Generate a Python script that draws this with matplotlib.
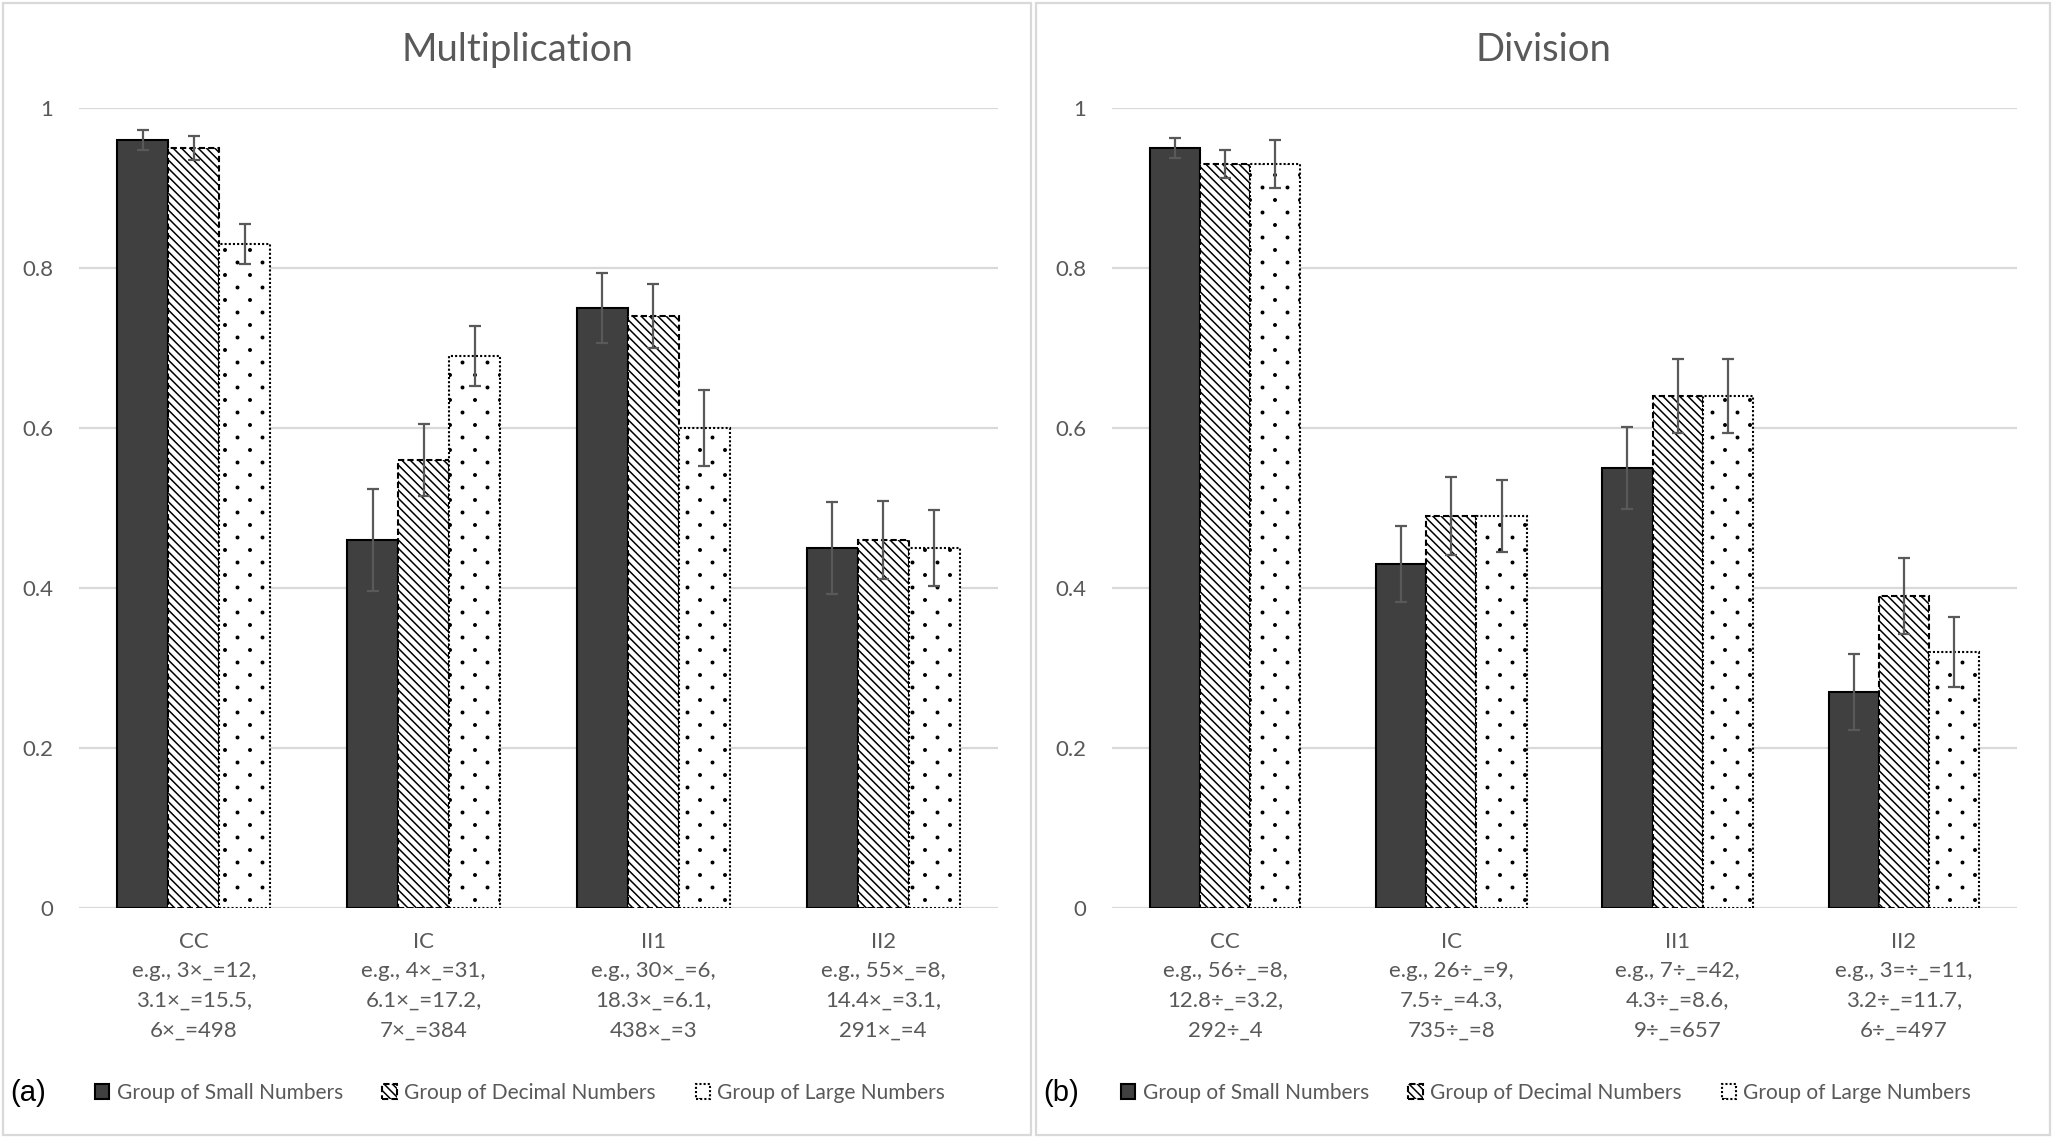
import matplotlib
matplotlib.use("Agg")
import matplotlib.pyplot as plt
import matplotlib.hatch as mhatch
from matplotlib.patches import Patch, Rectangle
from matplotlib.path import Path
import numpy as np

plt.rcParams['font.family'] = ['Lato', 'DejaVu Sans']
plt.rcParams['hatch.linewidth'] = 1.1


# Excel-like sparse dot pattern: staggered rows, dots twice as far apart in a row
class SparseDots(mhatch.HatchPatternBase):
    def __init__(self, hatch, density):
        self.n = 8 if '.' in hatch else 0
        circ = Path.unit_circle()
        self.shape_vertices = circ.vertices
        self.shape_codes = circ.codes
        if self.n == 0:
            self.num_vertices = 0
        else:
            half = self.n // 2
            num_shapes = (half + 1) * (half + 1) + half * half
            self.num_vertices = num_shapes * len(self.shape_vertices)

    def set_vertices_and_codes(self, vertices, codes):
        n = self.n
        half = n // 2
        sv = self.shape_vertices * 0.012
        vparts, cparts = [], []
        for row in range(n + 1):
            if row % 2 == 0:
                cols = np.linspace(0, 1, half + 1)
            else:
                cols = np.linspace(1 / n, 1 - 1 / n, half)
            for c in cols:
                vparts.append(sv + [c, row / n])
                cparts.append(self.shape_codes)
        np.concatenate(vparts, out=vertices)
        np.concatenate(cparts, out=codes)


mhatch._hatch_types = [SparseDots if t is mhatch.SmallFilledCircles else t
                       for t in mhatch._hatch_types]

# values
groups = ['Group of Small Numbers', 'Group of Decimal Numbers', 'Group of Large Numbers']

mult_labels = ['CC\ne.g., 3×_=12,\n3.1×_=15.5,\n6×_=498',
               'IC\ne.g., 4×_=31,\n6.1×_=17.2,\n7×_=384',
               'II1\ne.g., 30×_=6,\n18.3×_=6.1,\n438×_=3',
               'II2\ne.g., 55×_=8,\n14.4×_=3.1,\n291×_=4']
mult_small = [0.96, 0.46, 0.75, 0.45]
mult_small_err = [0.013, 0.064, 0.044, 0.058]
mult_dec = [0.95, 0.56, 0.74, 0.46]
mult_dec_err = [0.015, 0.045, 0.040, 0.049]
mult_large = [0.83, 0.69, 0.60, 0.45]
mult_large_err = [0.025, 0.038, 0.047, 0.047]

div_labels = ['CC\ne.g., 56÷_=8,\n12.8÷_=3.2,\n292÷_4',
              'IC\ne.g., 26÷_=9,\n7.5÷_=4.3,\n735÷_=8',
              'II1\ne.g., 7÷_=42,\n4.3÷_=8.6,\n9÷_=657',
              'II2\ne.g., 3=÷_=11,\n3.2÷_=11.7,\n6÷_=497']
div_small = [0.95, 0.43, 0.55, 0.27]
div_small_err = [0.013, 0.047, 0.051, 0.048]
div_dec = [0.93, 0.49, 0.64, 0.39]
div_dec_err = [0.018, 0.049, 0.046, 0.047]
div_large = [0.93, 0.49, 0.64, 0.32]
div_large_err = [0.030, 0.045, 0.046, 0.044]

W, H = 2055, 1139
fig = plt.figure(figsize=(W / 100, H / 100), dpi=100)

gray_txt = '#595959'
grid_col = '#d9d9d9'
styles = [dict(facecolor='#404040', edgecolor='black', hatch=None, linestyle='-'),
          dict(facecolor='white', edgecolor='black', hatch='\\\\\\\\', linestyle=(0, (3, 1.5))),
          dict(facecolor='white', edgecolor='black', hatch='.', linestyle=(0, (1, 1)))]


def draw_panel(rect, title, labels, series, errs, panel_box, tag):
    ax = fig.add_axes(rect)
    x = np.arange(len(labels))
    w = 0.222
    for i, (vals, err) in enumerate(zip(series, errs)):
        st = styles[i]
        ax.bar(x + (i - 1) * w, vals, w, facecolor=st['facecolor'], edgecolor=st['edgecolor'],
               hatch=st['hatch'], linestyle=st['linestyle'], linewidth=1.5, zorder=2)
        ax.errorbar(x + (i - 1) * w, vals, yerr=err, fmt='none', ecolor=gray_txt,
                    elinewidth=1.6, capsize=4.5, capthick=1.6, zorder=3)
    for yv in np.arange(0, 1.01, 0.2):
        ax.axhline(yv, color=grid_col, lw=1.6, zorder=1)
    ax.set_xlim(-0.5, len(labels) - 0.5)
    ax.set_ylim(0, 1)
    ax.set_yticks([0, 0.2, 0.4, 0.6, 0.8, 1])
    ax.set_yticklabels(['0', '0.2', '0.4', '0.6', '0.8', '1'])
    ax.set_xticks(x)
    ax.set_xticklabels(labels, linespacing=1.6)
    ax.tick_params(axis='both', length=0, labelsize=16, labelcolor=gray_txt)
    ax.tick_params(axis='x', pad=17)
    ax.tick_params(axis='y', pad=18.5)
    for s in ax.spines.values():
        s.set_visible(False)

    x0, y0, x1, y1 = panel_box
    fig.add_artist(Rectangle((x0 / W, 1 - y1 / H), (x1 - x0) / W, (y1 - y0) / H,
                             transform=fig.transFigure, fill=False, ec=grid_col, lw=1.6))
    cx = (x0 + x1) / 2 / W
    fig.text(cx, 1 - 50 / H, title, ha='center', va='center', fontsize=27.5, color=gray_txt)
    handles = [Patch(facecolor=st['facecolor'], edgecolor=st['edgecolor'], hatch=st['hatch'],
                     linestyle=st['linestyle'], linewidth=1.5, label=g)
               for st, g in zip(styles, groups)]
    fig.legend(handles=handles, loc='center', bbox_to_anchor=(cx + 3 / W, 1 - 1093 / H), ncol=3,
               frameon=False, fontsize=15, labelcolor=gray_txt, handlelength=0.7,
               handleheight=0.7, handletextpad=0.35, columnspacing=1.9)
    fig.text((x0 + 7) / W, 1 - 1093 / H, tag, ha='left', va='center', fontsize=21,
             family=['Liberation Sans', 'DejaVu Sans'], color='black')


draw_panel([79 / W, 1 - 908 / H, 919 / W, 800 / H], 'Multiplication', mult_labels,
           [mult_small, mult_dec, mult_large], [mult_small_err, mult_dec_err, mult_large_err],
           (3, 3, 1031, 1135), '(a)')
draw_panel([1112 / W, 1 - 908 / H, 905 / W, 800 / H], 'Division', div_labels,
           [div_small, div_dec, div_large], [div_small_err, div_dec_err, div_large_err],
           (1036, 3, 2050, 1135), '(b)')

fig.savefig('out.png', dpi=100, facecolor='white')
